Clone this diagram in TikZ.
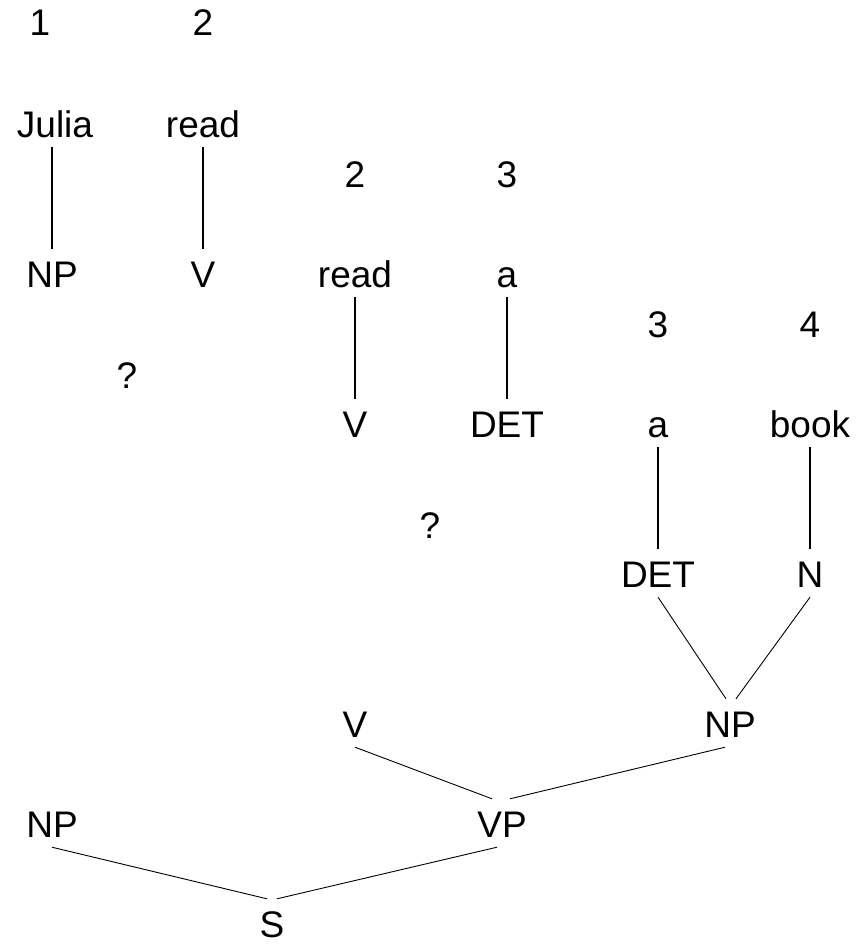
\documentclass[tikz,border=0pt]{standalone}
\usepackage{fontspec}
\setmainfont{Liberation Sans}
\begin{document}
\begin{tikzpicture}[x=1pt,y=-1pt,
  lab/.style={anchor=base,inner sep=0pt,font=\fontsize{37}{42}\selectfont},
  cat/.style={lab,text height=28pt,text depth=0pt,inner ysep=10pt,inner xsep=0pt},
  thick line/.style={line width=2pt},
  mid line/.style={line width=1.3pt},
  thin line/.style={line width=0.9pt}]
\useasboundingbox (0,0) rectangle (856,947);
% first chart
\node[lab] (n1) at (40,36) {1};
\node[lab] (n2) at (203,36) {2};
\node[cat] (julia) at (55,137) {Julia};
\node[cat] (read1) at (203,137) {read};
\node[cat] (np1) at (52,287) {NP};
\node[cat] (v1) at (203,287) {V};
\node[lab] (q1) at (127,388) {?};
\draw[thick line] (julia.south -| np1) -- (np1.north);
\draw[mid line] (read1.south) -- (v1.north);
% second chart
\node[lab] (n3) at (355,187) {2};
\node[lab] (n4) at (507,187) {3};
\node[cat] (read2) at (355,287) {read};
\node[cat] (a2) at (507,287) {a};
\node[cat] (v2) at (355,437) {V};
\node[cat] (det2) at (507,437) {DET};
\node[lab] (q2) at (430,538) {?};
\draw[mid line] (read2.south) -- (v2.north);
\draw[thick line] (a2.south) -- (det2.north);
% third chart
\node[lab] (n5) at (658,337) {3};
\node[lab] (n6) at (810,337) {4};
\node[cat] (a3) at (658,437) {a};
\node[cat] (book) at (810,437) {book};
\node[cat] (det3) at (658,587) {DET};
\node[cat] (n) at (810,587) {N};
\draw[thick line] (a3.south) -- (det3.north);
\draw[mid line] (book.south) -- (n.north);
% tree
\node[cat] (np3) at (730,737) {NP};
\node[cat] (v3) at (355,737) {V};
\node[cat] (vp) at (502,837) {VP};
\node[cat] (np4) at (52,837) {NP};
\node[cat] (s) at (272,937) {S};
\draw[thin line] (det3.south) -- ([xshift=-4pt]np3.north);
\draw[thin line] (n.south) -- ([xshift=6pt]np3.north);
\draw[thin line] (v3.south) -- ([xshift=-10pt]vp.north);
\draw[thin line] ([xshift=-5pt]np3.south) -- ([xshift=8pt]vp.north);
\draw[thin line] (np4.south) -- ([xshift=-5pt]s.north);
\draw[thin line] ([xshift=-5pt]vp.south) -- ([xshift=5pt]s.north);
\end{tikzpicture}
\end{document}
